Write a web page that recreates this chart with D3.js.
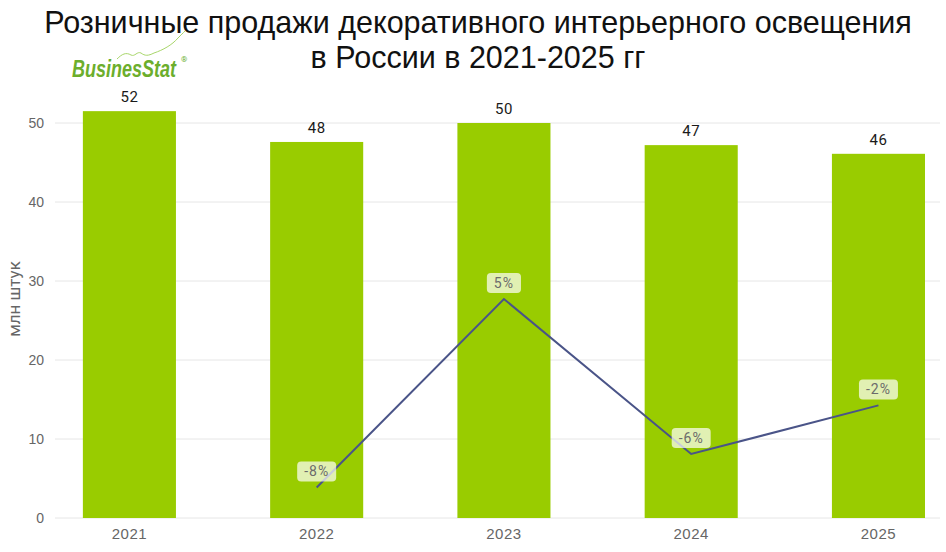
<!DOCTYPE html><html lang="ru"><head><meta charset="UTF-8"><title>Розничные продажи декоративного интерьерного освещения</title><script src="https://d3js.org/d3.v7.min.js"></script><style>
        body { margin: 0; background: #fff; }
        svg { display: block; font-family: Roboto, "DejaVu Sans", sans-serif; }
        .title { font-family: "Liberation Sans", Arial, sans-serif; font-size: 30.5px; fill: #111; }
        .grid line { stroke: #e6e6e6; stroke-width: 1px; }
        .axis text { fill: #666; }
        .val { font-size: 15px; fill: #1a1a1a; text-anchor: middle; letter-spacing: 0.5px; }
        .pct text { font-size: 14px; fill: #6b6b6b; text-anchor: middle; letter-spacing: 1px; }
    </style></head><body><svg id="chart"></svg><script>
        const years = ["2021", "2022", "2023", "2024", "2025"];
        const sales = [51.5, 47.6, 50.0, 47.2, 46.1];       // млн штук
        const growthYears = ["2022", "2023", "2024", "2025"];
        const growth = [-7.8, 4.6, -5.6, -2.4];              // % к предыдущему году
        const yTicks = [0, 10, 20, 30, 40, 50];

        const width = 946, height = 552;
        const svg = d3.select("#chart").attr("width", width).attr("height", height);

        // title
        svg.append("text").attr("class", "title").attr("x", 478).attr("y", 33)
            .attr("text-anchor", "middle").text("Розничные продажи декоративного интерьерного освещения");
        svg.append("text").attr("class", "title").attr("x", 478).attr("y", 68)
            .attr("text-anchor", "middle").text("в России в 2021-2025 гг");

        // logo
        const logo = svg.append("g");
        logo.append("path")
            .attr("d", "M117,59 C122,54 126,52 131,55 C135,57 137,51 141,53 C145,56 148,56 154,53 C163,50 172,45 178,38 C181,35 183,33 185,31")
            .attr("fill", "none").attr("stroke", "#a8d66a").attr("stroke-width", 1);
        const logoText = logo.append("text")
            .style("font-family", "'Liberation Sans Narrow', 'Liberation Sans', sans-serif")
            .style("font-size", "20px").style("font-weight", "bold").style("font-style", "italic")
            .style("fill", "#6cae2c").text("BusinesStat");
        const sx = 104 / logoText.node().getComputedTextLength();
        logoText.attr("transform", `translate(72,77) scale(${sx},1.2)`);
        logo.append("text").attr("x", 181).attr("y", 62).style("font-size", "8px").style("fill", "#6cae2c").text("®");

        const x = d3.scaleBand().domain(years).range([55, 940])
            .paddingInner(0.503).paddingOuter(0.1145).align(0.65);
        const y = d3.scaleLinear().domain([0, 55]).range([518, 83.5]);
        const y2 = d3.scaleLinear().domain([-9.81, 16.18]).range([518, 123]);

        // grid
        svg.append("g").attr("class", "grid")
            .selectAll("line").data(yTicks).join("line")
            .attr("x1", 55).attr("x2", 940)
            .attr("y1", d => y(d)).attr("y2", d => y(d));

        // y axis
        const yAxis = svg.append("g").attr("class", "axis").attr("transform", "translate(46,0)")
            .call(d3.axisLeft(y).tickValues(yTicks).tickSize(0).tickPadding(2));
        yAxis.select(".domain").remove();
        yAxis.selectAll("text").style("font-size", "14px");

        svg.append("text").attr("transform", "translate(20,299) rotate(-90)")
            .attr("text-anchor", "middle").style("font-size", "17px").style("fill", "#666")
            .text("млн штук");

        // x axis
        const xAxis = svg.append("g").attr("class", "axis").attr("transform", "translate(0,518)")
            .call(d3.axisBottom(x).tickSize(0).tickPadding(10));
        xAxis.select(".domain").remove();
        xAxis.selectAll("text").style("font-size", "15px").style("letter-spacing", "0.5px");

        // bars
        svg.append("g").selectAll("rect").data(sales).join("rect")
            .attr("x", (d, i) => x(years[i])).attr("width", x.bandwidth())
            .attr("y", d => y(d)).attr("height", d => y(0) - y(d))
            .attr("fill", "#99cc00");

        svg.append("g").selectAll("text").data(sales).join("text")
            .attr("class", "val")
            .attr("x", (d, i) => x(years[i]) + x.bandwidth() / 2)
            .attr("y", d => y(d) - 9)
            .text(d => Math.round(d));

        // growth line
        const cx = yr => x(yr) + x.bandwidth() / 2;
        svg.append("path").datum(growth)
            .attr("fill", "none").attr("stroke", "#4a5488").attr("stroke-width", 2)
            .attr("d", d3.line().x((d, i) => cx(growthYears[i])).y(d => y2(d)));

        const pct = svg.append("g").attr("class", "pct").selectAll("g").data(growth).join("g")
            .attr("transform", (d, i) => `translate(${cx(growthYears[i])},${y2(d) - 16})`);
        pct.append("text").attr("dy", "0.35em").text(d => Math.round(d) + "%");
        pct.each(function () {
            const g = d3.select(this);
            const w = g.select("text").node().getComputedTextLength() + 14;
            g.insert("rect", "text").attr("x", -w / 2).attr("y", -10).attr("width", w).attr("height", 20)
                .attr("rx", 4).attr("fill", "rgba(255,255,255,0.7)");
        });
    </script></body></html>
